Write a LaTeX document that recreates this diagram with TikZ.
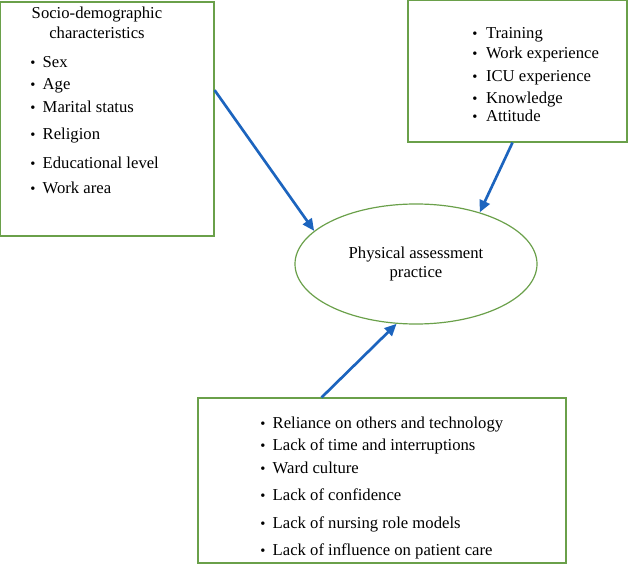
\documentclass[tikz,border=0pt,12pt]{standalone}
\usepackage{fontspec}
\setmainfont{Liberation Serif}
\usepackage{xcolor}
\usepackage{tikz}
\usetikzlibrary{arrows.meta,shapes,shapes.geometric}
\usetikzlibrary{positioning}

\definecolor{boxgreen}{RGB}{106,160,74}
\definecolor{arrowblue}{RGB}{28,100,190}
\newcommand{\itm}{{\small\textbullet}}

\begin{document}
\begin{tikzpicture}[x=0.75pt,y=0.75pt]
\tikzstyle{every node}=[inner sep=0pt,font=\fontsize{12.5}{14.5}\selectfont];
\tikzstyle{box}=[draw=boxgreen,line width=0.9pt];
\tikzstyle{arr}=[draw=arrowblue,line width=2pt,-{Triangle[length=9pt,width=8pt]}];

\useasboundingbox (0,0) rectangle (628,565);

\node[box,minimum width=160.5pt,minimum height=175.5pt] (socio) at (107,446) {};
\node[box,minimum width=164.25pt,minimum height=106.5pt] (prof) at (517.5,494) {};
\node[box,ellipse,minimum width=181.5pt,minimum height=90pt] (pap) at (416,301) {
\begin{tabular}{c}
Physical assessment \\
practice
\end{tabular}
};
\node[box,minimum width=276pt,minimum height=123.75pt] (barr) at (382,84.5) {};

\node[anchor=north] (socio-head) at (97,560.5) {
\begin{tabular}{c}
Socio-demographic \\[0.5pt]
characteristics
\end{tabular}
};

\node[anchor=north west] (socio-list) at (30,511.5) {
\begin{tabular}{@{}l@{\hspace{5.5pt}}l@{}}
\itm & Sex \\[2pt]
\itm & Age \\[2.75pt]
\itm & Marital status \\[5.75pt]
\itm & Religion \\[7.25pt]
\itm & Educational level \\[4.25pt]
\itm & Work area
\end{tabular}
};

\node[anchor=north west] (prof-list) at (472,540.5) {
\begin{tabular}{@{}l@{\hspace{6.5pt}}l@{}}
\itm & Training \\[0.5pt]
\itm & Work experience \\[2.75pt]
\itm & ICU experience \\[2pt]
\itm & Knowledge \\[-1pt]
\itm & Attitude
\end{tabular}
};

\node[anchor=north west] (barr-list) at (260,150.5) {
\begin{tabular}{@{}l@{\hspace{5.5pt}}l@{}}
\itm & Reliance on others and technology \\[2pt]
\itm & Lack of time and interruptions \\[2.75pt]
\itm & Ward culture \\[5.75pt]
\itm & Lack of confidence \\[6.5pt]
\itm & Lack of nursing role models \\[5.75pt]
\itm & Lack of influence on patient care
\end{tabular}
};

\path[arr] (socio.15) -- (pap.162);
\path[arr] (prof.266) -- (pap.39);
\path[arr] (barr.126) -- (pap.252);
\end{tikzpicture}
\end{document}
